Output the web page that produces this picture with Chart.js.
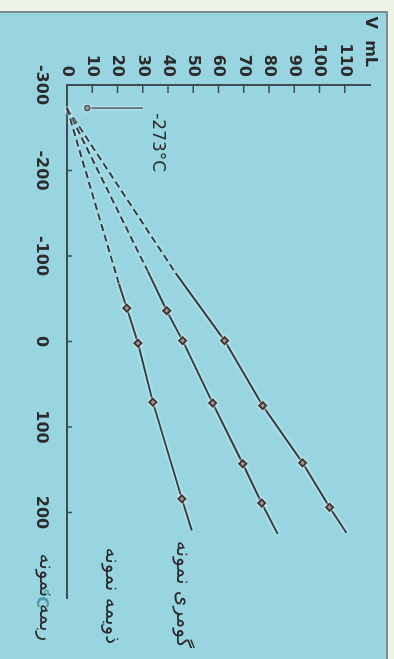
<!DOCTYPE html>
<html>
<head>
<meta charset="utf-8">
<script src="https://cdn.jsdelivr.net/npm/chart.js@4"></script>
<style>
html, body { margin:0; padding:0; background:#eef3e7; overflow:hidden; width:394px; height:659px; }
#panel { position:absolute; left:0; top:11px; width:386px; height:646px; background:#98d5e0; border-top:2px solid #7f8d90; border-right:2px solid #7f8d90; }
#turn { position:absolute; left:0; top:0; width:659px; height:394px; transform-origin:0 0; transform:translate(394px,0) rotate(90deg); }
</style>
</head>
<body>
<div id="panel"></div>
<div id="turn"><canvas id="charlesChart" width="659" height="394"></canvas></div>
<script>
// temperature (°C) against volume (mL), per sample
// first point is the extrapolated -273 origin, 1 in marks = plotted measurement
var tempsA = [-273, -67, -39, 2, 71, 184, 221];
var volsA  = [0, 20.6, 23.7, 28.1, 34.0, 45.5, 49.4];
var marksA = [0, 0, 1, 1, 1, 1, 0];

var tempsB = [-273, -82, -36, -1, 72, 143, 189, 225];
var volsB  = [0, 32.0, 39.5, 45.8, 57.7, 69.6, 77.1, 83.4];
var marksB = [0, 0, 1, 1, 1, 1, 1, 0];

var tempsC = [-273, -80, -1, 75, 142, 194, 224];
var volsC  = [0, 43.0, 62.4, 77.5, 93.3, 104.0, 110.7];
var marksC = [0, 0, 1, 1, 1, 1, 0];

var tempTicks  = [-300, -200, -100, 0, 100, 200, 300];
var tempLabels = ['-300', '-200', '-100', '0', '100', '200', '°C'];
var volTicks   = [0, 10, 20, 30, 40, 50, 60, 70, 80, 90, 100, 110, 120];
var volLabels  = ['0', '10', '20', '30', '40', '50', '60', '70', '80', '90', '100', '110', ''];
var volTitle   = 'V  mL';

var sampleNames = ['ربمه نمونه', 'ذویمه نمونه', 'گومری نمونه'];

var lineCol = '#303e47';
var markCol = '#3f3533';
var axisCol = '#3f4c55';
var textCol = '#2b2b2b';

function toPoints(ts, vs) {
  var pts = [];
  for (var i = 0; i < ts.length; i++) pts.push({x: ts[i], y: vs[i]});
  return pts;
}

function sample(ts, vs, marks) {
  return {
    data: toPoints(ts, vs),
    borderColor: lineCol,
    borderWidth: 2,
    backgroundColor: markCol,
    pointBorderColor: markCol,
    pointStyle: 'rectRot',
    pointRadius: function(c) { return marks[c.dataIndex] ? 3.5 : 0; },
    segment: { borderDash: function(c) { return c.p0DataIndex === 0 ? [7, 4] : []; } },
    tension: 0,
    clip: false
  };
}

// halo round the lines, ticks pointing inwards, free text
var decor = {
  id: 'decor',
  beforeDatasetDraw: function(chart) {
    chart.ctx.save();
    chart.ctx.shadowColor = '#ffffff';
    chart.ctx.shadowBlur = 3;
  },
  afterDatasetDraw: function(chart) {
    chart.ctx.restore();
  },
  afterDraw: function(chart) {
    var ctx = chart.ctx, xs = chart.scales.x, ys = chart.scales.y;
    var a = chart.chartArea;
    ctx.save();
    ctx.strokeStyle = axisCol;
    ctx.lineWidth = 1.5;
    ctx.beginPath();
    for (var i = 1; i < tempTicks.length - 1; i++) {
      var px = xs.getPixelForValue(tempTicks[i]);
      ctx.moveTo(px, a.bottom);
      ctx.lineTo(px, a.bottom - 5);
    }
    for (var j = 1; j < volTicks.length - 1; j++) {
      var py = ys.getPixelForValue(volTicks[j]);
      ctx.moveTo(a.left, py);
      ctx.lineTo(a.left + 8, py);
    }
    ctx.stroke();

    ctx.fillStyle = textCol;
    ctx.textBaseline = 'middle';
    ctx.textAlign = 'right';
    ctx.font = 'bold 16px "DejaVu Sans"';
    ctx.fillText(volTitle, a.left - 18, ys.getPixelForValue(120));

    ctx.textAlign = 'left';
    ctx.font = '17px "DejaVu Sans"';
    ctx.fillText('-273°C', xs.getPixelForValue(-267), ys.getPixelForValue(35.7));

    ctx.font = '20px "DejaVu Sans"';
    ctx.direction = 'rtl';
    ctx.textAlign = 'left';
    ctx.fillText(sampleNames[0], xs.getPixelForValue(248), ys.getPixelForValue(-8.6));
    ctx.fillText(sampleNames[1], xs.getPixelForValue(241), ys.getPixelForValue(17.5));
    ctx.fillText(sampleNames[2], xs.getPixelForValue(233), ys.getPixelForValue(45.6));
    ctx.restore();
  }
};

var cx = document.getElementById('charlesChart');
var myChart = new Chart(cx, {
  type: 'line',
  data: {
    datasets: [
      sample(tempsA, volsA, marksA),
      sample(tempsB, volsB, marksB),
      sample(tempsC, volsC, marksC),
      {
        // leader from the -273 note
        data: [{x: -273, y: 8}, {x: -273, y: 30}],
        borderColor: '#4a5a62',
        borderWidth: 1.5,
        backgroundColor: '#4a5a62',
        pointBorderColor: '#4a5a62',
        pointRadius: [2.5, 0],
        clip: false
      }
    ]
  },
  plugins: [decor],
  options: {
    responsive: false,
    animation: false,
    layout: { padding: {top: 24, right: 61, left: 0, bottom: 0} },
    plugins: { legend: {display: false}, tooltip: {enabled: false} },
    scales: {
      x: {
        type: 'linear',
        min: -300, max: 300,
        afterBuildTicks: function(s) { s.ticks = tempTicks.map(function(v) { return {value: v}; }); },
        afterFit: function(s) { s.height = 67; },
        grid: {display: false, drawTicks: false},
        border: {display: true, color: axisCol, width: 2},
        ticks: {
          autoSkip: false,
          maxRotation: 0,
          padding: 16,
          color: function(c) { return c.tick && c.tick.value === 300 ? '#4f9aa3' : textCol; },
          font: {family: 'DejaVu Sans', size: 16, weight: 'bold'},
          callback: function(v) { return tempLabels[tempTicks.indexOf(v)]; }
        }
      },
      y: {
        type: 'linear',
        min: 0, max: 120,
        afterBuildTicks: function(s) { s.ticks = volTicks.map(function(v) { return {value: v}; }); },
        afterFit: function(s) { s.width = 85; },
        grid: {display: false, drawTicks: false},
        border: {display: true, color: axisCol, width: 2},
        ticks: {
          autoSkip: false,
          padding: 8,
          color: textCol,
          font: {family: 'DejaVu Sans', size: 16, weight: 'bold'},
          callback: function(v) { return volLabels[volTicks.indexOf(v)]; }
        }
      }
    }
  }
});
</script>
</body>
</html>
